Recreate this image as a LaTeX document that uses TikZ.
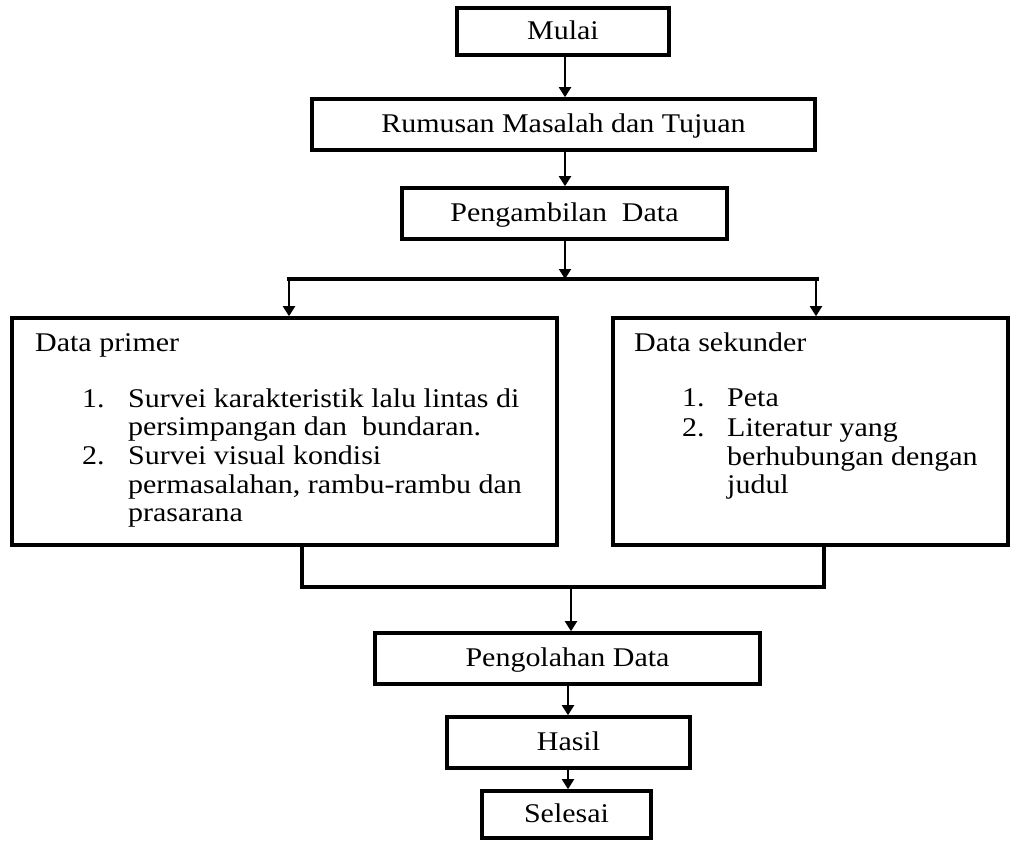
\documentclass[tikz,border=0pt]{standalone}
\usepackage{fontspec}
\setmainfont{Liberation Serif}[FakeStretch=1.11]
\usetikzlibrary{arrows.meta,calc}
\tikzset{
  box/.style={draw=black, line width=3.6pt, fill=white, inner sep=0pt,
    font=\fontsize{27}{29}\selectfont, text height=21.6pt, text depth=5.4pt},
  arr/.style={line width=2pt, -{Triangle[length=10pt,width=12pt]}},
  joinline/.style={line width=3.6pt, line cap=rect},
  txt/.style={inner sep=0pt, anchor=base west, font=\fontsize{27}{29}\selectfont}
}
\begin{document}
\begin{tikzpicture}[x=1pt,y=-1pt]
\useasboundingbox (0,0) rectangle (1019,840);
% boxes
\node[box, minimum width=212pt, minimum height=47pt] (mulai) at (563,31.5) {Mulai};
\node[box, minimum width=503pt, minimum height=51pt] (rumusan) at (563.5,124.5) {Rumusan Masalah dan Tujuan};
\node[box, minimum width=325pt, minimum height=51pt] (ambil) at (564.5,213.5) {Pengambilan~ Data};
\node[box, minimum width=545pt, minimum height=227pt] (primer) at (284.5,431.5) {};
\node[box, minimum width=395pt, minimum height=227pt] (sekunder) at (810.5,431.5) {};
\node[box, minimum width=385pt, minimum height=51pt] (olah) at (567.5,658.5) {Pengolahan Data};
\node[box, minimum width=243pt, minimum height=51pt] (hasil) at (568.5,742.5) {Hasil};
\node[box, minimum width=169pt, minimum height=47pt] (selesai) at (566.5,814.5) {Selesai};
% texts in Data primer
\node[txt] (dph) at (35,351) {Data primer};
\node[txt] (n1) at (82,407) {1.};
\node[txt] (l1a) at (128,407) {Survei karakteristik lalu lintas di};
\node[txt] (l1b) at (128,435.7) {persimpangan dan~ bundaran.};
\node[txt] (n2) at (82,464) {2.};
\node[txt] (l2a) at (128,464) {Survei visual kondisi};
\node[txt] (l2b) at (128,493) {permasalahan, rambu-rambu dan};
\node[txt] (l2c) at (128,521.5) {prasarana};
% texts in Data sekunder
\node[txt] (dsh) at (634,351) {Data sekunder};
\node[txt] (m1) at (682,406) {1.};
\node[txt] (r1) at (727,406) {Peta};
\node[txt] (m2) at (682,436) {2.};
\node[txt] (r2a) at (727,436) {Literatur yang};
\node[txt] (r2b) at (727,465) {berhubungan dengan};
\node[txt] (r2c) at (727,493) {judul};
% coordinates
\coordinate (c1) at (565,0);
\coordinate (split) at (565,279);
\coordinate (sl) at (289,279);
\coordinate (sr) at (817,279);
\coordinate (srarr) at (816,279);
\coordinate (ml) at (302,587);
\coordinate (mr) at (824,587);
\coordinate (mm) at (571,587);
\coordinate (c3) at (568,0);
% connectors
\draw[arr] (mulai.south -| c1) -- (rumusan.north -| c1);
\draw[arr] (rumusan.south -| c1) -- (ambil.north -| c1);
\draw[arr] (ambil.south -| split) -- (split);
\draw[joinline] (sl) -- (sr);
\draw[arr] (sl) -- (sl |- primer.north);
\draw[arr] (srarr) -- (srarr |- sekunder.north);
\draw[joinline] (primer.south -| ml) -- (ml) -- (mr) -- (sekunder.south -| mr);
\draw[arr] (mm) -- (mm |- olah.north);
\draw[arr] (olah.south -| c3) -- (hasil.north -| c3);
\draw[arr] (hasil.south -| c3) -- (selesai.north -| c3);
\end{tikzpicture}
\end{document}
